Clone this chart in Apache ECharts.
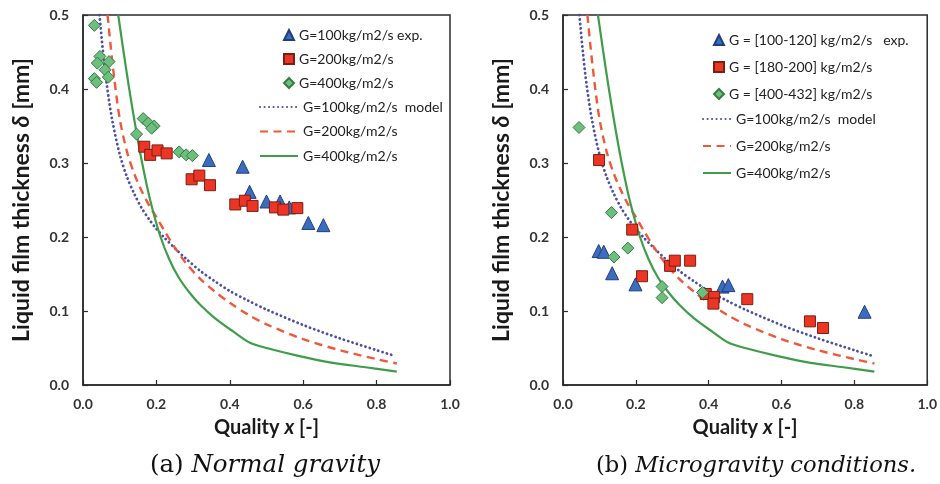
<!DOCTYPE html>
<html>
<head>
<meta charset="utf-8">
<script src="https://cdn.jsdelivr.net/npm/echarts@6/dist/echarts.min.js"></script>
<style>
  html, body { margin: 0; padding: 0; background: #fff; }
  #wrap { position: relative; width: 940px; height: 484px; }
  #left { position: absolute; left: 0; top: 0; width: 470px; height: 484px; }
  #right { position: absolute; left: 470px; top: 0; width: 470px; height: 484px; }
</style>
</head>
<body>
<div id="wrap"><div id="left"></div><div id="right"></div></div>
<script>
// ---- Model curves (film thickness vs quality), shared by both panels ----
const model100X = [0.045, 0.055, 0.065, 0.08, 0.1, 0.12, 0.14, 0.16, 0.18, 0.2, 0.22, 0.25, 0.28, 0.32, 0.36, 0.4, 0.45, 0.5, 0.6, 0.7, 0.8, 0.845];
const model100Y = [0.50, 0.448, 0.405, 0.357, 0.312, 0.281, 0.258, 0.239, 0.224, 0.211, 0.20, 0.185, 0.171, 0.154, 0.14, 0.127, 0.114, 0.102, 0.081, 0.063, 0.047, 0.04];
const model200X = [0.067, 0.075, 0.085, 0.1, 0.12, 0.14, 0.16, 0.18, 0.2, 0.22, 0.25, 0.28, 0.32, 0.36, 0.4, 0.45, 0.5, 0.6, 0.7, 0.8, 0.855];
const model200Y = [0.50, 0.46, 0.415, 0.36, 0.315, 0.285, 0.262, 0.243, 0.227, 0.21, 0.186, 0.165, 0.143, 0.126, 0.111, 0.095, 0.082, 0.062, 0.047, 0.035, 0.029];
const model400X = [0.096, 0.11, 0.125, 0.142, 0.16, 0.183, 0.21, 0.235, 0.26, 0.29, 0.32, 0.36, 0.41, 0.455, 0.5, 0.59, 0.68, 0.77, 0.855];
const model400Y = [0.50, 0.452, 0.403, 0.352, 0.303, 0.25, 0.202, 0.17, 0.146, 0.125, 0.108, 0.09, 0.072, 0.057, 0.05, 0.039, 0.03, 0.024, 0.018];

// ---- (a) Normal gravity: experimental points [quality, thickness] ----
const normal100 = [[0.343, 0.304], [0.435, 0.295], [0.454, 0.261], [0.500, 0.248], [0.537, 0.248], [0.562, 0.240], [0.614, 0.219], [0.655, 0.216]];
const normal200 = [[0.167, 0.322], [0.183, 0.311], [0.203, 0.317], [0.228, 0.313], [0.296, 0.278], [0.317, 0.283], [0.346, 0.270], [0.415, 0.244], [0.441, 0.249], [0.462, 0.242], [0.523, 0.240], [0.546, 0.237], [0.584, 0.239]];
const normal400 = [[0.031, 0.486], [0.046, 0.444], [0.039, 0.435], [0.071, 0.437], [0.060, 0.426], [0.069, 0.416], [0.031, 0.414], [0.037, 0.409], [0.146, 0.339], [0.164, 0.360], [0.178, 0.354], [0.194, 0.350], [0.187, 0.347], [0.262, 0.315], [0.281, 0.311], [0.298, 0.310]];

// ---- (b) Microgravity: experimental points [quality, thickness] ----
const micro100 = [[0.098, 0.181], [0.112, 0.180], [0.135, 0.151], [0.199, 0.136], [0.438, 0.133], [0.454, 0.135], [0.828, 0.099]];
const micro200 = [[0.099, 0.304], [0.190, 0.210], [0.217, 0.147], [0.294, 0.161], [0.307, 0.168], [0.349, 0.168], [0.392, 0.123], [0.415, 0.119], [0.413, 0.110], [0.506, 0.116], [0.678, 0.086], [0.714, 0.077]];
const micro400 = [[0.044, 0.348], [0.133, 0.233], [0.140, 0.173], [0.178, 0.185], [0.272, 0.133], [0.272, 0.118], [0.383, 0.125]];

// ---- Labels ----
const lineNames = ['G=100kg/m2/s  model', 'G=200kg/m2/s model', 'G=400kg/m2/s model'];
const normalNames = ['G=100kg/m2/s exp.', 'G=200kg/m2/s', 'G=400kg/m2/s'];
const microNames = ['G = [100-120] kg/m2/s   exp.', 'G = [180-200] kg/m2/s', 'G = [400-432] kg/m2/s'];
const captionA = ['(a) ', 'Normal gravity'];
const captionB = ['(b) ', 'Microgravity conditions.'];

const SANS = 'Lato, "Noto Sans", sans-serif';
const AXIS = '#2b2b2b';

function pairs(xs, ys) { return xs.map((x, i) => [x, ys[i]]); }

function lineSeries(name, xs, ys, color, type, width, cap) {
  return {
    type: 'line', name, data: pairs(xs, ys), symbol: 'none', showSymbol: false,
    smooth: 0.3, clip: true, z: 2,
    lineStyle: { color, width, type, cap },
    itemStyle: { color }
  };
}

function scatterSeries(name, data, symbol, size, fill, border) {
  return {
    type: 'scatter', name, data, symbol, symbolSize: size, z: 5,
    itemStyle: { color: fill, borderColor: border, borderWidth: 1, opacity: 1 }
  };
}

function panel(cfg) {
  const s = cfg.names;
  const richX = {
    b: { fontFamily: SANS, fontWeight: 'bold', fontSize: 20, color: '#1a1a1a' },
    i: { fontFamily: SANS, fontWeight: 'bold', fontStyle: 'italic', fontSize: 20, color: '#1a1a1a' }
  };
  const richY = {
    b: { fontFamily: SANS, fontWeight: 'bold', fontSize: 23, color: '#1a1a1a' },
    i: { fontFamily: SANS, fontWeight: 'bold', fontStyle: 'italic', fontSize: 23, color: '#1a1a1a' }
  };
  return {
    animation: false,
    backgroundColor: '#fff',
    grid: { left: cfg.gridLeft, top: 15, width: 367, height: 370, show: true, borderColor: AXIS, borderWidth: 1.5 },
    xAxis: {
      type: 'value', min: 0, max: 1, interval: 0.2,
      name: '{b|Quality }{i|x}{b| [-]}', nameLocation: 'middle', nameGap: 33,
      nameTextStyle: { rich: richX },
      axisLine: { show: true, lineStyle: { color: AXIS, width: 1.5 } },
      axisTick: { show: true, inside: true, length: 5, lineStyle: { color: AXIS, width: 1.2 } },
      axisLabel: { margin: 12, fontFamily: SANS, fontWeight: 'bold', fontSize: 14, color: '#333', formatter: v => v.toFixed(1) },
      splitLine: { show: false }
    },
    yAxis: {
      type: 'value', min: 0, max: 0.5, interval: 0.1,
      name: '{b|Liquid film thickness }{i|δ}{b| [mm]}', nameLocation: 'middle', nameGap: 50,
      nameTextStyle: { rich: richY },
      axisLine: { show: true, lineStyle: { color: AXIS, width: 1.5 } },
      axisTick: { show: true, inside: true, length: 5, lineStyle: { color: AXIS, width: 1.2 } },
      axisLabel: { margin: 14, fontFamily: SANS, fontWeight: 'bold', fontSize: 14, color: '#333', formatter: v => v.toFixed(1) },
      splitLine: { show: false }
    },
    legend: [
      {
        orient: 'vertical', left: cfg.symLegendLeft, top: cfg.symLegendTop, itemWidth: 10, itemHeight: 10,
        itemGap: cfg.symGap, data: s, selectedMode: false, padding: 0,
        textStyle: { fontFamily: SANS, fontSize: 14, color: '#222' }
      },
      {
        orient: 'vertical', left: cfg.lineLegendLeft, top: cfg.lineLegendTop, itemWidth: cfg.lineIconWidth, itemHeight: 12,
        itemGap: cfg.lineGap, data: lineNames, selectedMode: false, padding: 0,
        itemStyle: { opacity: 0 },
        formatter: n => (n === lineNames[0] ? n : n.replace(' model', '')),
        textStyle: { fontFamily: SANS, fontSize: 14, color: '#222' }
      }
    ],
    graphic: [{
      type: 'text', x: cfg.captionX, y: 466,
      style: {
        text: '{r|' + cfg.caption[0] + '}{i|' + cfg.caption[1] + '}',
        align: 'center', verticalAlign: 'middle',
        rich: {
          r: { fontFamily: '"DejaVu Serif", serif', fontSize: cfg.captionSize, fill: '#111' },
          i: { fontFamily: '"DejaVu Serif", serif', fontStyle: 'italic', fontSize: cfg.captionSize, fill: '#111' }
        }
      }
    }],
    series: [
      lineSeries(lineNames[0], model100X, model100Y, '#4a4fa8', [0.1, 4.4], 2.8, 'round'),
      lineSeries(lineNames[1], model200X, model200Y, '#f0583c', [8, 5.5], 2.4, 'butt'),
      lineSeries(lineNames[2], model400X, model400Y, '#3f9d4a', 'solid', 2.2, 'butt'),
      scatterSeries(s[0], cfg.d100, 'triangle', 13, '#3b6cc0', '#1f3f7a'),
      scatterSeries(s[1], cfg.d200, 'rect', 11, '#ec3524', '#7a1f12'),
      scatterSeries(s[2], cfg.d400, 'diamond', 12, '#6dbf7c', '#3a7a45')
    ]
  };
}

const left = echarts.init(document.getElementById('left'), null, { renderer: 'canvas' });
left.setOption(panel({
  gridLeft: 83, names: normalNames, d100: normal100, d200: normal200, d400: normal400,
  symLegendLeft: 283, symLegendTop: 28, symGap: 10,
  lineLegendLeft: 259, lineLegendTop: 100, lineIconWidth: 38, lineGap: 10.5,
  caption: captionA, captionX: 265, captionSize: 24.5
}));

const right = echarts.init(document.getElementById('right'), null, { renderer: 'canvas' });
right.setOption(panel({
  gridLeft: 93, names: microNames, d100: micro100, d200: micro200, d400: micro400,
  symLegendLeft: 243, symLegendTop: 33, symGap: 13,
  lineLegendLeft: 232, lineLegendTop: 112, lineIconWidth: 28, lineGap: 13,
  caption: captionB, captionX: 286, captionSize: 22.6
}));
</script>
</body>
</html>
